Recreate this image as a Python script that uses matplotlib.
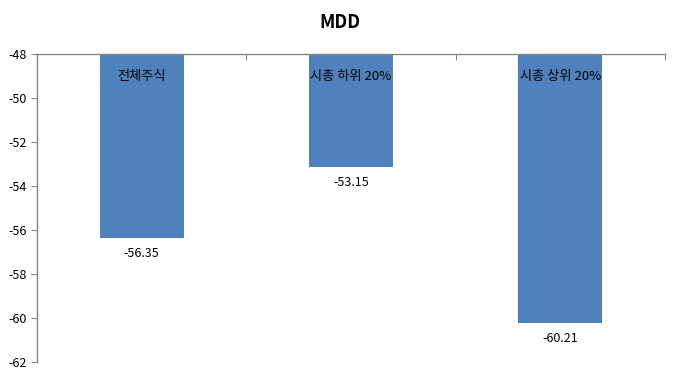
import numpy as np
import matplotlib.pyplot as plt

plt.rcParams['font.family'] = ['Noto Sans CJK KR', 'DejaVu Sans']

categories = ['전체주식', '시총 하위 20%', '시총 상위 20%']
mdd_values = [-56.35, -53.15, -60.21]
y_ticks = [-62, -60, -58, -56, -54, -52, -50, -48]

y_top = -48
y_bottom = -62
bar_color = '#4F81BD'
axis_color = '#868686'

fig = plt.figure(figsize=(6.79, 3.74), dpi=100)
ax = fig.add_axes([37 / 679, 1 - 362 / 374, (665 - 37) / 679, (362 - 54) / 374])

x = np.arange(len(categories))
heights = np.array(mdd_values) - y_top
ax.bar(x, heights, bottom=y_top, width=0.4, color=bar_color, zorder=2)

# 막대 안쪽 위 카테고리 이름, 아래 값 표시
for xi, name, val in zip(x, categories, mdd_values):
    ax.text(xi, y_top - 1.0, name, ha='center', va='center', fontsize=9.5, color='black')
    ax.text(xi, val - 0.7, f'{val:.2f}', ha='center', va='center', fontsize=9, color='black')

ax.set_xlim(-0.5, len(categories) - 0.5)
ax.set_ylim(y_bottom, y_top)
ax.set_yticks(y_ticks)
ax.set_yticklabels([str(t) for t in y_ticks], fontsize=9)

# 카테고리 축은 위쪽 (-48 위치)
ax.xaxis.set_ticks_position('top')
ax.set_xticks(np.arange(len(categories) + 1) - 0.5)
ax.set_xticklabels([])
ax.tick_params(axis='x', direction='in', length=4, color=axis_color)
ax.tick_params(axis='y', direction='out', length=4, color=axis_color, pad=3)

for side in ['bottom', 'right']:
    ax.spines[side].set_visible(False)
for side in ['left', 'top']:
    ax.spines[side].set_color(axis_color)
    ax.spines[side].set_linewidth(1.0)

fig.text(0.5, 1 - 22 / 374, 'MDD', ha='center', va='center', fontsize=13, fontweight='bold')

fig.savefig('out.png', dpi=100)
